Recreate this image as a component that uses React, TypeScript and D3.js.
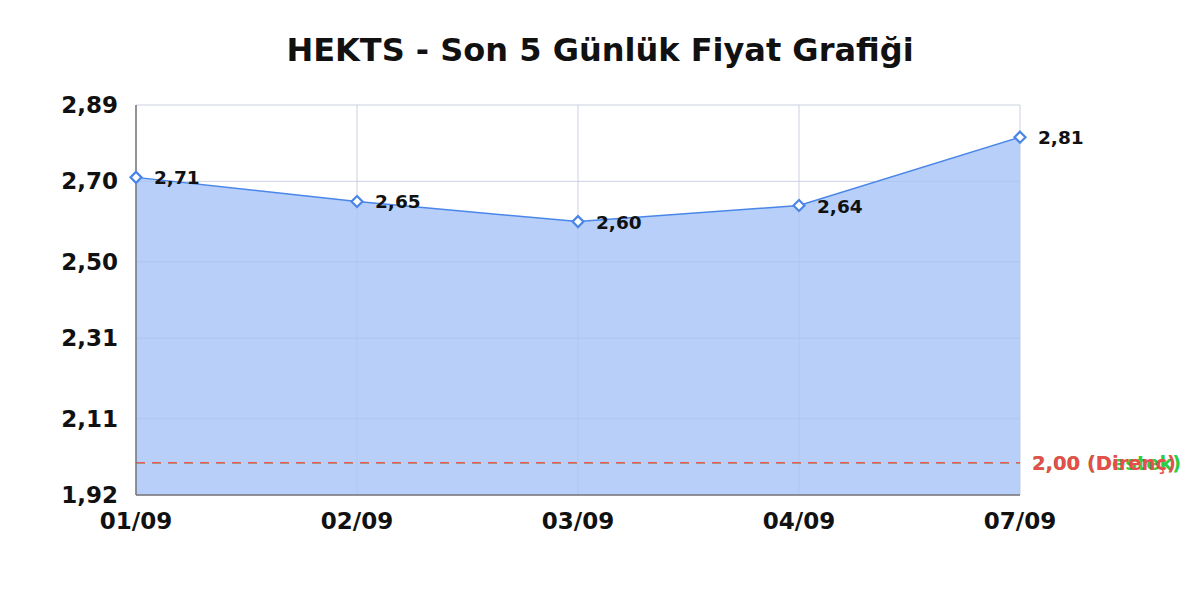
import * as d3 from 'd3';

const dates = ['01/09', '02/09', '03/09', '04/09', '07/09'];
const prices = [2.71, 2.65, 2.6, 2.64, 2.81];
const yTicks = [1.92, 2.11, 2.31, 2.5, 2.7, 2.89];
const levels = [
  { label: 'Destek', value: 2.0, color: '#2ecc40' },
  { label: 'Direnç', value: 2.0, color: '#e84c4c' },
];

const W = 1200;
const H = 600;
const margin = { top: 105, right: 180, bottom: 105, left: 136 };
const fmt = (v: number) => v.toFixed(2).replace('.', ',');
const FONT = 'DejaVu Sans, sans-serif';

export default function App() {
  const innerW = W - margin.left - margin.right;
  const innerH = H - margin.top - margin.bottom;

  const x = d3.scalePoint<string>().domain(dates).range([0, innerW]);
  const y = d3.scaleLinear().domain([1.92, 2.89]).range([innerH, 0]);

  const pts = dates.map((d, i) => ({ d, v: prices[i] }));
  const area = d3
    .area<{ d: string; v: number }>()
    .x((p) => x(p.d)!)
    .y0(innerH)
    .y1((p) => y(p.v));
  const line = d3
    .line<{ d: string; v: number }>()
    .x((p) => x(p.d)!)
    .y((p) => y(p.v));

  return (
    <svg width={W} height={H} style={{ display: 'block', position: 'absolute', left: 0, top: 0 }}>
      <rect width={W} height={H} fill="#fff" />
      <text x={W / 2} y={61} textAnchor="middle" fontFamily={FONT} fontWeight="bold" fontSize={32} fill="#111">
        HEKTS - Son 5 Günlük Fiyat Grafiği
      </text>
      <g transform={`translate(${margin.left},${margin.top})`}>
        {/* grid */}
        {yTicks.map((t) => (
          <line key={t} x1={0} x2={innerW} y1={y(t)} y2={y(t)} stroke="#e3e3e3" strokeWidth={1} />
        ))}
        {dates.map((d) => (
          <line key={d} x1={x(d)} x2={x(d)} y1={0} y2={innerH} stroke="#e3e3e3" strokeWidth={1} />
        ))}
        {/* area */}
        <path d={area(pts)!} fill="#b0cbf8" fillOpacity={0.9} />
        {/* grid over area, faint */}
        {yTicks.map((t) => (
          <line key={'o' + t} x1={0} x2={innerW} y1={y(t)} y2={y(t)} stroke="#9fb7e0" strokeOpacity={0.3} strokeWidth={1} />
        ))}
        {dates.map((d) => (
          <line key={'o' + d} x1={x(d)} x2={x(d)} y1={0} y2={innerH} stroke="#9fb7e0" strokeOpacity={0.3} strokeWidth={1} />
        ))}
        <path d={line(pts)!} fill="none" stroke="#4a86e8" strokeWidth={1.5} />
        {/* level lines */}
        {levels.map((l) => (
          <g key={l.label}>
            <line x1={0} x2={innerW} y1={y(l.value)} y2={y(l.value)} stroke={l.color === '#e84c4c' ? '#ee5a5a' : l.color} strokeWidth={1.5} strokeDasharray="9,7" />
            <text x={innerW + 12} y={y(l.value) + 7} fontFamily={FONT} fontWeight="bold" fontSize={19.5} fill={l.color}>
              {`${fmt(l.value)} (${l.label})`}
            </text>
          </g>
        ))}
        {/* axes */}
        <line x1={0} x2={0} y1={0} y2={innerH} stroke="#777" strokeWidth={1.5} />
        <line x1={0} x2={innerW} y1={innerH} y2={innerH} stroke="#777" strokeWidth={1.5} />
        {/* markers + labels */}
        {pts.map((p) => (
          <g key={p.d} transform={`translate(${x(p.d)},${y(p.v)})`}>
            <path d="M0,-5.5 L5.5,0 L0,5.5 L-5.5,0 Z" fill="#fff" stroke="#4a86e8" strokeWidth={2.2} />
            <text x={18} y={7} fontFamily={FONT} fontWeight="bold" fontSize={18.5} fill="#111">
              {fmt(p.v)}
            </text>
          </g>
        ))}
        {/* y tick labels */}
        {yTicks.map((t) => (
          <text key={t} x={-18} y={y(t) + 8} textAnchor="end" fontFamily={FONT} fontWeight="bold" fontSize={23} fill="#111">
            {fmt(t)}
          </text>
        ))}
        {/* x tick labels */}
        {dates.map((d) => (
          <text key={d} x={x(d)} y={innerH + 34} textAnchor="middle" fontFamily={FONT} fontWeight="bold" fontSize={23} fill="#111">
            {d}
          </text>
        ))}
      </g>
    </svg>
  );
}
